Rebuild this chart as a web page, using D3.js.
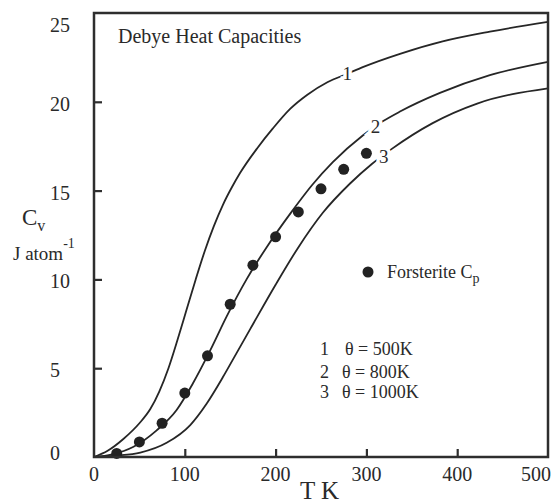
<!DOCTYPE html>
<html>
<head>
<meta charset="utf-8">
<script src="https://cdn.jsdelivr.net/npm/d3@7"></script>
<style>
  body { margin: 0; background: #fff; }
  svg { display: block; }
  text { font-family: "Liberation Serif", "Times New Roman", serif; fill: #2a2a2a; }
</style>
</head>
<body>
<div id="chart"></div>
<script>
'use strict';

// Debye curves: [T (K), Cv (J atom-1)]
const curve1 = [[0, 0], [15, 0.35], [32, 1.0], [50, 1.9], [62, 2.7], [72, 3.7], [82, 5.0], [92, 6.6], [102, 8.3],
    [112, 10.0], [122, 11.6], [132, 13.0], [142, 14.2], [152, 15.2], [161, 16.0], [180, 17.4], [197, 18.5],
    [216, 19.6], [235, 20.4], [257, 21.1], [280, 21.6], [296, 21.95], [337, 22.7], [384, 23.4], [436, 23.95],
    [500, 24.5]];
const curve2 = [[0, 0], [20, 0.15], [43, 0.56], [69, 1.5], [91, 2.65], [109, 4.15], [128, 6.0], [146, 7.9],
    [168, 10.0], [190, 11.8], [219, 13.9], [240, 15.3], [263, 16.6], [296, 18.1], [318, 18.9], [337, 19.45],
    [381, 20.5], [436, 21.5], [500, 22.25]];
const curve3 = [[0, 0], [25, 0.08], [51, 0.25], [80, 0.8], [106, 1.8], [124, 3.0], [142, 4.5], [157, 5.85],
    [172, 7.2], [200, 9.7], [225, 11.8], [252, 13.75], [282, 15.4], [306, 16.5], [328, 17.35], [373, 18.8],
    [422, 19.9], [500, 20.75]];
const curves = [curve1, curve2, curve3];
const curveNames = ['1', '2', '3'];
// where each curve carries its number: [T, Cv]
const curveLabelAt = [[279, 21.6], [310, 18.6], [319, 16.95]];

// forsterite Cp points
const forsteriteT = [25, 50, 75, 100, 125, 150, 175, 200, 225, 250, 275, 300];
const forsteriteCp = [0.2, 0.85, 1.9, 3.6, 5.7, 8.6, 10.8, 12.4, 13.8, 15.1, 16.2, 17.1];

const xTicks = [0, 100, 200, 300, 400, 500];
const yTicks = [0, 5, 10, 15, 20, 25];
const legendTheta = ['θ = 500K', 'θ = 800K', 'θ = 1000K'];

const width = 555, height = 504;
const x = d3.scaleLinear().domain([0, 500]).range([94, 548]);
const y = d3.scaleLinear().domain([0, 25]).range([457, 13]);

const svg = d3.select('#chart').append('svg')
    .attr('width', width)
    .attr('height', height);

// curves
const line = d3.line()
    .x(d => x(d[0]))
    .y(d => y(d[1]))
    .curve(d3.curveMonotoneX);

svg.append('g')
    .attr('fill', 'none')
    .attr('stroke', '#262626')
    .attr('stroke-width', 1.8)
    .selectAll('path')
    .data(curves)
    .join('path')
    .attr('d', line);

// curve numbers, with a white halo that breaks the line
svg.append('g')
    .selectAll('text')
    .data(curveLabelAt)
    .join('text')
    .attr('x', d => x(d[0]))
    .attr('y', d => y(d[1]))
    .attr('dy', '0.35em')
    .attr('text-anchor', 'middle')
    .attr('font-size', 19)
    .attr('stroke', '#fff')
    .attr('stroke-width', 7)
    .attr('paint-order', 'stroke')
    .text((d, i) => curveNames[i]);

// data points
svg.append('g')
    .attr('fill', '#222')
    .selectAll('circle')
    .data(forsteriteT)
    .join('circle')
    .attr('cx', d => x(d))
    .attr('cy', (d, i) => y(forsteriteCp[i]))
    .attr('r', 5.5);

// frame
svg.append('rect')
    .attr('x', x(0))
    .attr('y', y(25))
    .attr('width', x(500) - x(0))
    .attr('height', y(0) - y(25))
    .attr('fill', 'none')
    .attr('stroke', '#2e2e2e')
    .attr('stroke-width', 2.5);

// inward ticks
const yAxis = svg.append('g')
    .attr('transform', `translate(${x(0)},0)`)
    .call(d3.axisRight(y).tickValues([5, 10, 15, 20]).tickSize(8).tickFormat(''));
yAxis.select('.domain').remove();
yAxis.selectAll('line').attr('stroke', '#2e2e2e').attr('stroke-width', 2.2);

const xAxis = svg.append('g')
    .attr('transform', `translate(0,${y(0)})`)
    .call(d3.axisTop(x).tickValues([100, 200, 300, 400]).tickSize(8).tickFormat(''));
xAxis.select('.domain').remove();
xAxis.selectAll('line').attr('stroke', '#2e2e2e').attr('stroke-width', 2.2);

// tick labels
svg.append('g')
    .attr('font-size', 20)
    .selectAll('text')
    .data(xTicks)
    .join('text')
    .attr('x', d => Math.min(x(d), 536))
    .attr('y', 481)
    .attr('text-anchor', 'middle')
    .text(d => d);

svg.append('g')
    .attr('font-size', 20)
    .selectAll('text')
    .data(yTicks)
    .join('text')
    .attr('x', 50)
    .attr('y', d => Math.min(Math.max(y(d) + 2, 25), 453))
    .attr('dy', '0.35em')
    .text(d => d);

// axis titles
svg.append('text')
    .attr('x', 300)
    .attr('y', 499)
    .attr('font-size', 25)
    .text('T K');

const cv = svg.append('text')
    .attr('x', 22)
    .attr('y', 225)
    .attr('font-size', 23);
cv.append('tspan').text('C');
cv.append('tspan').attr('font-size', 16).attr('dy', 6).text('v');

const unit = svg.append('text')
    .attr('x', 13)
    .attr('y', 260)
    .attr('font-size', 19);
unit.append('tspan').text('J atom');
unit.append('tspan').attr('font-size', 14).attr('dy', -12).text('-1');

// title
svg.append('text')
    .attr('x', 118)
    .attr('y', 43)
    .attr('font-size', 20)
    .text('Debye Heat Capacities');

// legend
svg.append('circle')
    .attr('cx', 368)
    .attr('cy', 272)
    .attr('r', 5.5)
    .attr('fill', '#222');

const fo = svg.append('text')
    .attr('x', 387)
    .attr('y', 278)
    .attr('font-size', 18);
fo.append('tspan').text('Forsterite C');
fo.append('tspan').attr('font-size', 14).attr('dy', 5).text('p');

const legend = svg.append('g')
    .attr('font-size', 18)
    .selectAll('g')
    .data(legendTheta)
    .join('g')
    .attr('transform', (d, i) => `translate(0,${[355, 378, 398][i]})`);
legend.append('text')
    .attr('x', 320)
    .text((d, i) => curveNames[i]);
legend.append('text')
    .attr('x', (d, i) => i === 0 ? 345 : 342)
    .text(d => d);
</script>
</body>
</html>
